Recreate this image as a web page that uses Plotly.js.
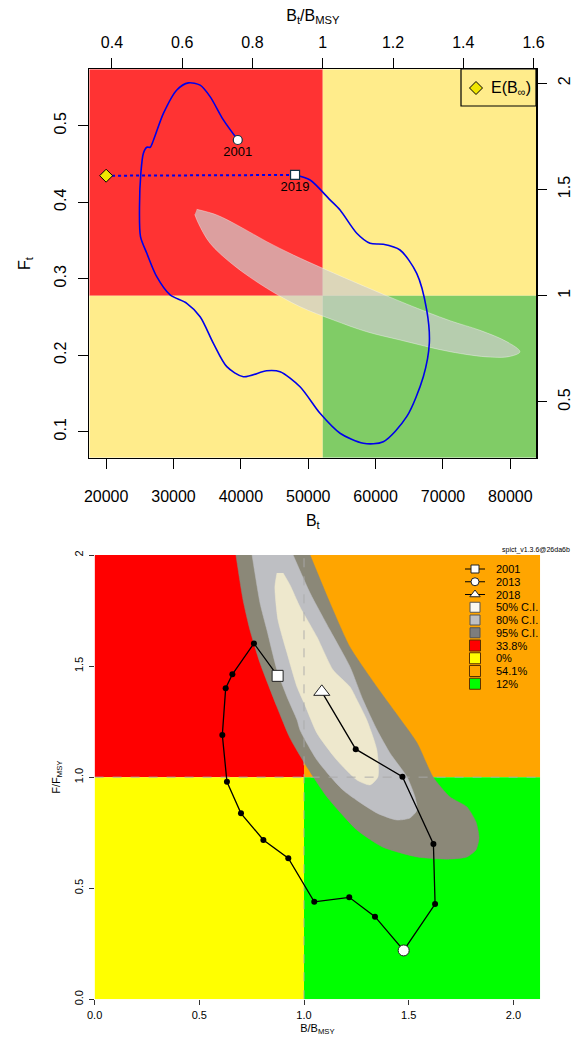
<!DOCTYPE html>
<html><head><meta charset="utf-8">
<script src="https://cdn.plot.ly/plotly-3.0.1.min.js"></script>
<style>html,body{margin:0;padding:0;background:#fff}#chart{width:577px;height:1042px}</style>
</head><body><div id="chart"></div>
<script>
// ---------- TOP PANEL DATA ----------
const bmsy = 52150;
const fmsy = 0.2778;
const trajB = [39540,37400,35430,33950,32210,30490,28500,27020,26530,26040,25530,25150,24950,25100,26040,27510,29500,31970,33950,35920,37910,40370,43830,45820,48780,51750,54720,58180,61140,64610,67080,67970,67580,66100,63620,61140,59170,57200,54720,53230,50270,48040];
const trajF = [0.4813,0.5075,0.538,0.553,0.556,0.5467,0.516,0.481,0.4718,0.4718,0.464,0.4378,0.394,0.355,0.3332,0.3026,0.2787,0.2678,0.2503,0.2155,0.185,0.1719,0.1797,0.1784,0.1588,0.124,0.098,0.0848,0.0869,0.1196,0.1719,0.2155,0.2591,0.307,0.3375,0.345,0.3463,0.3594,0.3898,0.403,0.429,0.4356];
const endYears = ['2001','2019'];
const endB = [39540, 48040];
const endF = [0.4813, 0.4356];
const eqB = [20000];
const eqF = [0.4346];
const ellB = [33450,36420,39880,43840,47790,52150,58670,64600,71040,75490,79500,81420,80000,77000,71040,63620,58670,53730,48780,43840,38890,35430,33690,33150];
const ellF = [0.3907,0.3833,0.368,0.3484,0.331,0.3136,0.2888,0.2669,0.2451,0.2325,0.2175,0.2045,0.1985,0.1975,0.2046,0.2199,0.2307,0.246,0.2634,0.2875,0.3179,0.3463,0.3724,0.384];
const topXTicks = [20000,30000,40000,50000,60000,70000,80000];
const topXLabels = ['20000','30000','40000','50000','60000','70000','80000'];
const topX2Ticks = [0.4,0.6,0.8,1,1.2,1.4,1.6];
const topX2Labels = ['0.4','0.6','0.8','1','1.2','1.4','1.6'];
const topYTicks = [0.1,0.2,0.3,0.4,0.5];
const topYLabels = ['0.1','0.2','0.3','0.4','0.5'];
const topY2Ticks = [0.5,1,1.5,2];
const topY2Labels = ['0.5','1','1.5','2'];

// ---------- BOTTOM PANEL DATA ----------
const relB = [0.874,0.761,0.658,0.626,0.610,0.632,0.699,0.806,0.925,1.049,1.216,1.339,1.476,1.626,1.618,1.470,1.247,1.085];
const relF = [1.456,1.602,1.463,1.400,1.190,0.979,0.837,0.717,0.635,0.439,0.459,0.372,0.220,0.429,0.699,1.002,1.126,1.384];
const ci95B = [0.675,0.709,0.742,0.790,0.871,0.933,1.014,1.110,1.253,1.377,1.540,1.697,1.778,1.821,1.836,1.821,1.778,1.697,1.616,1.540,1.435,1.348,1.219,1.124,1.029];
const ci95F = [2.0,1.797,1.662,1.514,1.316,1.176,1.046,0.911,0.762,0.685,0.641,0.631,0.641,0.672,0.726,0.799,0.866,0.911,1.001,1.154,1.293,1.406,1.586,1.784,2.0];
const ci80B = [0.752,0.790,0.823,0.871,0.919,0.967,0.981,1.062,1.186,1.349,1.444,1.506,1.540,1.530,1.492,1.411,1.349,1.282,1.220,1.124,1.029,0.948];
const ci80F = [2.0,1.784,1.662,1.482,1.361,1.257,1.212,1.077,0.942,0.838,0.807,0.816,0.852,0.911,1.001,1.108,1.212,1.347,1.496,1.662,1.829,2.0];
const ci50B = [0.871,0.861,0.876,0.919,0.967,1.005,1.062,1.157,1.253,1.315,1.353,1.348,1.300,1.253,1.220,1.139,1.062,0.981,0.933,0.900];
const ci50F = [1.919,1.856,1.707,1.559,1.406,1.324,1.198,1.077,0.987,0.965,1.001,1.122,1.257,1.347,1.406,1.482,1.631,1.766,1.865,1.919];
const markYears = ['2001','2013','2018'];
const markIdx = [0, 12, 17];
const botXTicks = [0,0.5,1,1.5,2];
const botXLabels = ['0.0','0.5','1.0','1.5','2.0'];
const botYTicks = [0,0.5,1,1.5,2];
const botYLabels = ['0.0','0.5','1.0','1.5','2'];
const legendLabels = ['2001','2013','2018','50% C.I.','80% C.I.','95% C.I.','33.8%','0%','54.1%','12%'];

// ---------- STYLE / LAYOUT ----------
const W = 577, H = 1042;
const fx = p => p / W, fy = p => 1 - p / H;
const FONT = 'Liberation Sans, Arial, Helvetica, sans-serif';
const topXR = [17500, 83850], topYR = [0.066, 0.5737];
const botXR = [0, 2.128], botYR = [0, 2];
const cRed = 'rgb(255,51,51)', cYel = 'rgb(255,236,139)', cGrn = 'rgb(128,204,102)';
const c95 = 'rgb(139,136,120)', c80 = 'rgb(190,191,195)', c50 = 'rgb(238,232,205)';
const bRed = 'rgb(255,0,0)', bYel = 'rgb(255,255,0)', bOra = 'rgb(255,165,0)', bGrn = 'rgb(0,255,0)';

const traces = [];
traces.push({x: ellB, y: ellF, xaxis:'x', yaxis:'y', mode:'lines', fill:'toself',
  line:{color:'rgba(255,255,255,0.35)', width:1, shape:'spline', smoothing:1},
  fillcolor:'rgba(205,205,205,0.7)', hoverinfo:'skip', showlegend:false});
traces.push({x: trajB, y: trajF, xaxis:'x', yaxis:'y', mode:'lines',
  line:{color:'rgb(0,0,235)', width:1.6, shape:'spline', smoothing:0.8}, showlegend:false});
traces.push({x: [endB[1], eqB[0]], y: [endF[1], eqF[0]], xaxis:'x', yaxis:'y', mode:'lines',
  line:{color:'rgb(0,0,235)', width:2, dash:'dot'}, showlegend:false});
traces.push({x: endB, y: endF, text: endYears, xaxis:'x', yaxis:'y', mode:'markers+text',
  textposition:'bottom center', textfont:{family:FONT, size:13, color:'#000'},
  marker:{symbol:['circle','square'], size:9, opacity:1, color:'#fff', line:{color:'#134', width:1.2}}, showlegend:false});
traces.push({x: eqB, y: eqF, xaxis:'x', yaxis:'y', mode:'markers',
  marker:{symbol:'diamond', size:10, opacity:1, color:'rgb(240,230,0)', line:{color:'#000', width:1}}, showlegend:false});
traces.push({x:[1], y:[1], xaxis:'x2', yaxis:'y2', mode:'markers', marker:{opacity:0}, hoverinfo:'skip', showlegend:false});

traces.push({x: ci95B, y: ci95F, xaxis:'x3', yaxis:'y3', mode:'lines', fill:'toself',
  line:{color:c95, width:0.5, shape:'spline', smoothing:0.6}, fillcolor:c95, hoverinfo:'skip', showlegend:false});
traces.push({x: ci80B, y: ci80F, xaxis:'x3', yaxis:'y3', mode:'lines', fill:'toself',
  line:{color:c80, width:0.5, shape:'spline', smoothing:0.6}, fillcolor:c80, hoverinfo:'skip', showlegend:false});
traces.push({x: ci50B, y: ci50F, xaxis:'x3', yaxis:'y3', mode:'lines', fill:'toself',
  line:{color:c50, width:0.5, shape:'spline', smoothing:0.6}, fillcolor:c50, hoverinfo:'skip', showlegend:false});
traces.push({x:[1,1], y:botYR, xaxis:'x3', yaxis:'y3', mode:'lines',
  line:{color:'rgba(170,170,170,0.9)', width:1, dash:'dash'}, hoverinfo:'skip', showlegend:false});
traces.push({x:botXR, y:[1,1], xaxis:'x3', yaxis:'y3', mode:'lines',
  line:{color:'rgba(170,170,170,0.9)', width:1, dash:'dash'}, hoverinfo:'skip', showlegend:false});
traces.push({x: relB, y: relF, xaxis:'x3', yaxis:'y3', mode:'lines+markers',
  line:{color:'#000', width:1.3}, marker:{color:'#000', size:6, opacity:1}, showlegend:false});
traces.push({x: markIdx.map(i=>relB[i]), y: markIdx.map(i=>relF[i]), name:'years', xaxis:'x3', yaxis:'y3', mode:'markers',
  marker:{symbol:['square','circle','triangle-up'], size:[11,11,14], opacity:1, color:'#fff', line:{color:'#222', width:1}}, showlegend:false});

// legend overlays (page pixel coordinates)
const legY = legendLabels.map((_, i) => 569 + i * 12.75);
traces.push({x:[465,485,null,465,485,null,465,485], y:[legY[0],legY[0],null,legY[1],legY[1],null,legY[2],legY[2]],
  xaxis:'x4', yaxis:'y4', mode:'lines', line:{color:'#000', width:1}, hoverinfo:'skip', showlegend:false});
traces.push({x:[475,475,475], y:legY.slice(0,3), xaxis:'x4', yaxis:'y4', mode:'markers', hoverinfo:'skip',
  marker:{symbol:['square','circle','triangle-up'], size:[8,8,9], opacity:1, color:'#fff', line:{color:'#222', width:1}}, showlegend:false});
traces.push({x:[475,475,475], y:legY.slice(3,6), xaxis:'x4', yaxis:'y4', mode:'markers', hoverinfo:'skip',
  marker:{symbol:'square', size:10, opacity:1, color:['rgb(250,248,240)',c80,'rgb(125,125,125)'], line:{color:'#555', width:1}}, showlegend:false});
traces.push({x:[475,475,475,475], y:legY.slice(6,10), xaxis:'x4', yaxis:'y4', mode:'markers', hoverinfo:'skip',
  marker:{symbol:'square', size:11, opacity:1, color:[bRed,bYel,bOra,bGrn], line:{color:'rgb(90,50,0)', width:1}}, showlegend:false});
traces.push({x:[476], y:[88], xaxis:'x4', yaxis:'y4', mode:'markers', hoverinfo:'skip',
  marker:{symbol:'diamond', size:10, opacity:1, color:'rgb(240,230,0)', line:{color:'#000', width:1}}, showlegend:false});

const shapes = [
  {type:'rect', xref:'x', yref:'y', x0:topXR[0], x1:bmsy, y0:fmsy, y1:topYR[1], fillcolor:cRed, line:{width:0}, layer:'below'},
  {type:'rect', xref:'x', yref:'y', x0:bmsy, x1:topXR[1], y0:fmsy, y1:topYR[1], fillcolor:cYel, line:{width:0}, layer:'below'},
  {type:'rect', xref:'x', yref:'y', x0:topXR[0], x1:bmsy, y0:topYR[0], y1:fmsy, fillcolor:cYel, line:{width:0}, layer:'below'},
  {type:'rect', xref:'x', yref:'y', x0:bmsy, x1:topXR[1], y0:topYR[0], y1:fmsy, fillcolor:cGrn, line:{width:0}, layer:'below'},
  {type:'rect', xref:'x3', yref:'y3', x0:0, x1:1, y0:1, y1:botYR[1], fillcolor:bRed, line:{width:0}, layer:'below'},
  {type:'rect', xref:'x3', yref:'y3', x0:1, x1:botXR[1], y0:1, y1:botYR[1], fillcolor:bOra, line:{width:0}, layer:'below'},
  {type:'rect', xref:'x3', yref:'y3', x0:0, x1:1, y0:0, y1:1, fillcolor:bYel, line:{width:0}, layer:'below'},
  {type:'rect', xref:'x3', yref:'y3', x0:1, x1:botXR[1], y0:0, y1:1, fillcolor:bGrn, line:{width:0}, layer:'below'},
  {type:'rect', xref:'paper', yref:'paper', x0:fx(461), x1:fx(536), y0:fy(106), y1:fy(69), line:{color:'#000', width:1.2}}
];

const annotations = legendLabels.map((t, i) => ({xref:'paper', yref:'paper', x:fx(494), y:fy(legY[i]), text:t,
  showarrow:false, xanchor:'left', yanchor:'middle', font:{family:FONT, size:11, color:'#000'}}));
annotations.push({xref:'paper', yref:'paper', x:fx(489), y:fy(88), text:'E(B<sub>∞</sub>)', showarrow:false,
  xanchor:'left', yanchor:'middle', font:{family:FONT, size:16, color:'#000'}});
annotations.push({xref:'paper', yref:'paper', x:fx(572), y:fy(550), text:'spict_v1.3.6@26da6b', showarrow:false,
  xanchor:'right', yanchor:'middle', font:{family:FONT, size:7, color:'#000'}});

const tickFontTop = {family:FONT, size:16, color:'#000'};
const tickFontBot = {family:FONT, size:11, color:'#000'};
const topDomX = [fx(89.3), fx(536.3)], topDomY = [fy(457.7), fy(69.3)];
const botDomX = [fx(94.6), fx(540.2)], botDomY = [fy(999.3), fy(555)];

const layout = {
  width: W, height: H, margin:{l:0, r:0, t:0, b:0}, paper_bgcolor:'#fff', plot_bgcolor:'rgba(0,0,0,0)',
  showlegend:false, font:{family:FONT, color:'#000'},
  xaxis:{domain:topDomX, anchor:'y', range:topXR, tickvals:topXTicks, ticktext:topXLabels, ticks:'outside', ticklen:10, tickcolor:'#000',
    tickfont:tickFontTop, ticklabelstandoff:14, showgrid:false, zeroline:false, showline:true, mirror:true, linecolor:'#000', linewidth:1.5,
    title:{text:'B<sub>t</sub>', font:{family:FONT, size:16}, standoff:10}},
  yaxis:{domain:topDomY, anchor:'x', range:topYR, tickvals:topYTicks, ticktext:topYLabels, ticks:'outside', ticklen:10, tickcolor:'#000',
    tickfont:tickFontTop, tickangle:-90, ticklabelstandoff:5, showgrid:false, zeroline:false, showline:true, mirror:true, linecolor:'#000', linewidth:1.5,
    title:{text:'F<sub>t</sub>', font:{family:FONT, size:16}, standoff:18}},
  xaxis2:{overlaying:'x', anchor:'y', side:'top', range:[topXR[0]/bmsy, topXR[1]/bmsy], tickvals:topX2Ticks, ticktext:topX2Labels,
    ticks:'outside', ticklen:10, tickcolor:'#000', tickfont:tickFontTop, ticklabelstandoff:4, showgrid:false, zeroline:false,
    title:{text:'B<sub>t</sub>/B<sub>MSY</sub>', font:{family:FONT, size:16}, standoff:8}},
  yaxis2:{overlaying:'y', anchor:'x', side:'right', range:[topYR[0]/fmsy, topYR[1]/fmsy], tickvals:topY2Ticks, ticktext:topY2Labels,
    ticks:'outside', ticklen:10, tickcolor:'#000', tickfont:tickFontTop, tickangle:-90, ticklabelstandoff:3, showgrid:false, zeroline:false},
  xaxis3:{domain:botDomX, anchor:'y3', range:botXR, tickvals:botXTicks, ticktext:botXLabels, ticks:'outside', ticklen:5, tickcolor:'#333',
    tickfont:tickFontBot, ticklabelstandoff:0, showgrid:false, zeroline:false, showline:false,
    title:{text:'B/B<sub>MSY</sub>', font:{family:FONT, size:11}, standoff:4}},
  yaxis3:{domain:botDomY, anchor:'x3', range:botYR, tickvals:botYTicks, ticktext:botYLabels, ticks:'outside', ticklen:5, tickcolor:'#333',
    tickfont:tickFontBot, tickangle:-90, ticklabelstandoff:1, showgrid:false, zeroline:false, showline:false,
    title:{text:'F/F<sub>MSY</sub>', font:{family:FONT, size:11}, standoff:10}},
  xaxis4:{domain:[0,1], anchor:'y4', range:[0,W], visible:false, fixedrange:true},
  yaxis4:{domain:[0,1], anchor:'x4', range:[H,0], visible:false, fixedrange:true},
  shapes: shapes, annotations: annotations
};

Plotly.newPlot('chart', traces, layout, {displayModeBar:false, staticPlot:true});
</script></body></html>
